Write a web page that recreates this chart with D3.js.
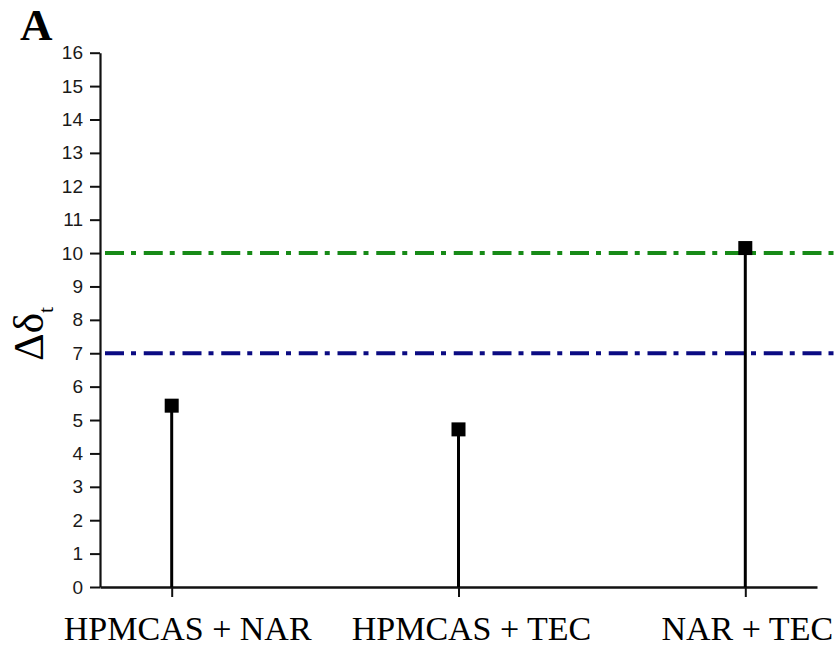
<!DOCTYPE html>
<html>
<head>
<meta charset="utf-8">
<script src="https://cdn.jsdelivr.net/npm/d3@7"></script>
<style>
  html, body { margin: 0; padding: 0; background: #fff; }
  svg { display: block; }
</style>
</head>
<body>
<svg id="chart" width="838" height="653"></svg>
<script>
// ---- data ----
const categories = ["HPMCAS + NAR", "HPMCAS + TEC", "NAR + TEC"];
const deltaValues = [5.43, 4.72, 10.15];
const refValues = [10, 7];
const refColors = ["#178a17", "#0b0b82"];
const yTicks = [0,1,2,3,4,5,6,7,8,9,10,11,12,13,14,15,16];
const panelLabel = "A";

// ---- layout ----
const W = 838, H = 653;
const svg = d3.select("#chart");
svg.append("rect").attr("width", W).attr("height", H).attr("fill", "#fff");

const x = d3.scaleLinear().domain([0.75, 3.25]).range([100, 817]);
const y = d3.scaleLinear().domain([0, 16]).range([587, 52.7]);
const catPos = categories.map((c, i) => i + 1);

// reference lines
svg.append("g").selectAll("line").data(refValues).join("line")
  .attr("x1", x(0.75)).attr("x2", W)
  .attr("y1", d => y(d)).attr("y2", d => y(d))
  .attr("stroke", (d, i) => refColors[i])
  .attr("stroke-width", 4)
  .attr("stroke-dasharray", "19,7,5,7.75")
  .attr("stroke-dashoffset", 33.75);

// y axis
const yAxis = d3.axisLeft(y).tickValues(yTicks).tickFormat(d3.format("d"))
  .tickSize(10).tickSizeOuter(0).tickPadding(7);
const gy = svg.append("g").attr("transform", `translate(${x(0.75)},0)`).call(yAxis);
gy.select(".domain").attr("stroke", "#111").attr("stroke-width", 2.2);
gy.selectAll(".tick line").attr("stroke", "#111").attr("stroke-width", 2);
gy.selectAll(".tick text").attr("font-family", "'Liberation Sans', Arial, sans-serif")
  .attr("font-size", 19).attr("fill", "#1a1a1a");

// x axis
const xAxis = d3.axisBottom(x).tickValues(catPos).tickFormat("")
  .tickSize(10).tickSizeOuter(0);
const gx = svg.append("g").attr("transform", `translate(0,${y(0)})`).call(xAxis);
gx.select(".domain").attr("stroke", "#111").attr("stroke-width", 2.5);
gx.selectAll(".tick line").attr("stroke", "#111").attr("stroke-width", 2);

// stems
svg.append("g").selectAll("line").data(deltaValues).join("line")
  .attr("x1", (d, i) => x(catPos[i])).attr("x2", (d, i) => x(catPos[i]))
  .attr("y1", d => y(d)).attr("y2", y(0))
  .attr("stroke", "#000").attr("stroke-width", 3);

// square markers
const sq = 14;
svg.append("g").selectAll("rect").data(deltaValues).join("rect")
  .attr("x", (d, i) => x(catPos[i]) - sq / 2)
  .attr("y", d => y(d) - sq / 2)
  .attr("width", sq).attr("height", sq)
  .attr("fill", "#000");

// category labels
const labelDx = [16, 13, 2];
svg.append("g").selectAll("text").data(categories).join("text")
  .attr("x", (d, i) => x(catPos[i]) + labelDx[i])
  .attr("y", 640)
  .attr("text-anchor", "middle")
  .attr("font-family", "'Liberation Serif', 'Times New Roman', serif")
  .attr("font-size", 34)
  .attr("fill", "#000")
  .text(d => d);

// y-axis title
const yt = svg.append("text")
  .attr("transform", "translate(43,361) rotate(-90)")
  .attr("font-family", "'Liberation Serif', 'Times New Roman', serif")
  .attr("font-size", 43).attr("fill", "#000");
yt.append("tspan").text("Δδ");
yt.append("tspan").attr("font-size", 22).attr("dy", 10).text("t");

// panel label
svg.append("text").attr("x", 20).attr("y", 40)
  .attr("font-family", "'Liberation Serif', 'Times New Roman', serif")
  .attr("font-weight", "bold").attr("font-size", 45).attr("fill", "#000")
  .text(panelLabel);
</script>
</body>
</html>
